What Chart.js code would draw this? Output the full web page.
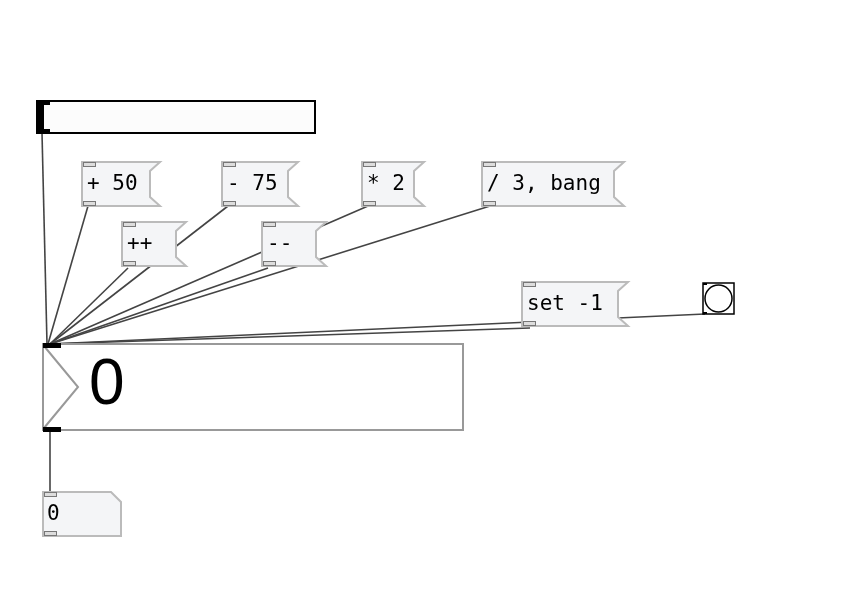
<!DOCTYPE html>
<html><head><meta charset="utf-8">
<script src="https://cdn.jsdelivr.net/npm/chart.js@4/dist/chart.umd.min.js"></script>
<style>body{margin:0;background:#fff}canvas{display:block}</style>
</head><body>
<canvas id="patchCanvas" width="861" height="596"></canvas>
<script>
// message boxes: label, left, top, width (body), height
const msgLabels = ["+ 50", "- 75", "* 2", "/ 3, bang", "++", "--", "set -1"];
const msgX = [82, 222, 362, 482, 122, 262, 522];
const msgY = [162, 162, 162, 162, 222, 222, 282];
const msgW = [68, 66, 52, 132, 54, 54, 96];
const msgH = 44;

// patch cords: from point -> to point
const cordFromX = [42, 88, 128, 228, 368, 490, 268, 530, 705, 50];
const cordFromY = [133, 206, 268, 206, 206, 206, 268, 328, 314, 430];
const cordToX = [47, 48, 50, 50, 50, 50, 50, 50, 50, 50];
const cordToY = [344, 344, 344, 344, 344, 344, 344, 344, 344, 492];

const numberValue = "0";
const atomValue = "0";

const datasets = cordFromX.map((x, i) => ({
  data: [{x: x, y: cordFromY[i]}, {x: cordToX[i], y: cordToY[i]}],
  showLine: true, borderColor: "#444", borderWidth: 1.6, pointRadius: 0
}));

const patchPlugin = {
  id: "patch",
  afterDatasetsDraw(chart) {
    const ctx = chart.ctx, sx = chart.scales.x, sy = chart.scales.y;
    const X = v => sx.getPixelForValue(v), Y = v => sy.getPixelForValue(v);
    ctx.save();
    // slider
    ctx.fillStyle = "#fcfcfc"; ctx.strokeStyle = "#000"; ctx.lineWidth = 2;
    ctx.fillRect(X(37), Y(101), X(315) - X(37), Y(133) - Y(101));
    ctx.strokeRect(X(37), Y(101), X(315) - X(37), Y(133) - Y(101));
    ctx.fillStyle = "#000";
    ctx.fillRect(X(38), Y(102), 6, 30);
    ctx.fillRect(X(38), Y(102), 12, 3); ctx.fillRect(X(38), Y(129), 12, 3);
    // message boxes
    const inlet = (x, y) => {
      ctx.fillStyle = "#ddd"; ctx.strokeStyle = "#777"; ctx.lineWidth = 1;
      ctx.fillRect(x, y, 13, 5); ctx.strokeRect(x + 0.5, y + 0.5, 12, 4);
    };
    msgLabels.forEach((lab, i) => {
      const l = X(msgX[i]), t = Y(msgY[i]), r = X(msgX[i] + msgW[i]), b = Y(msgY[i] + msgH);
      ctx.beginPath();
      ctx.moveTo(l, t); ctx.lineTo(r + 10, t); ctx.lineTo(r, t + 9);
      ctx.lineTo(r, b - 9); ctx.lineTo(r + 10, b); ctx.lineTo(l, b); ctx.closePath();
      ctx.fillStyle = "#f4f5f7"; ctx.fill();
      ctx.strokeStyle = "#bbb"; ctx.lineWidth = 2; ctx.stroke();
      ctx.fillStyle = "#000"; ctx.font = "21px 'DejaVu Sans Mono'";
      ctx.textBaseline = "middle"; ctx.fillText(lab, l + 5, (t + b) / 2 + 1);
      inlet(l + 1, t); inlet(l + 1, b - 5);
    });
    // bang
    ctx.fillStyle = "#fff"; ctx.strokeStyle = "#000"; ctx.lineWidth = 1.5;
    ctx.fillRect(X(703), Y(283), 31, 31); ctx.strokeRect(X(703), Y(283), 31, 31);
    ctx.beginPath(); ctx.arc(X(718.5), Y(298.5), 13.5, 0, Math.PI * 2); ctx.stroke();
    ctx.fillStyle = "#000"; ctx.fillRect(X(703), Y(283), 4, 2); ctx.fillRect(X(703), Y(312), 4, 2);
    // big number box
    ctx.fillStyle = "#fff"; ctx.strokeStyle = "#999"; ctx.lineWidth = 2;
    ctx.fillRect(X(43), Y(344), X(463) - X(43), Y(430) - Y(344));
    ctx.strokeRect(X(43), Y(344), X(463) - X(43), Y(430) - Y(344));
    ctx.beginPath(); ctx.moveTo(X(44), Y(346)); ctx.lineTo(X(78), Y(387)); ctx.lineTo(X(44), Y(428)); ctx.stroke();
    ctx.fillStyle = "#000";
    ctx.fillRect(X(43), Y(343), 18, 5); ctx.fillRect(X(43), Y(427), 18, 5);
    ctx.font = "64px 'Liberation Sans'"; ctx.textBaseline = "middle";
    ctx.fillText(numberValue, X(89), Y(386));
    // atom box
    ctx.beginPath();
    ctx.moveTo(X(43), Y(492)); ctx.lineTo(X(111), Y(492)); ctx.lineTo(X(121), Y(502));
    ctx.lineTo(X(121), Y(536)); ctx.lineTo(X(43), Y(536)); ctx.closePath();
    ctx.fillStyle = "#f4f5f7"; ctx.fill(); ctx.strokeStyle = "#bbb"; ctx.lineWidth = 2; ctx.stroke();
    ctx.fillStyle = "#000"; ctx.font = "21px 'DejaVu Sans Mono'";
    ctx.fillText(atomValue, X(47), Y(515));
    inlet(X(44), Y(492)); inlet(X(44), Y(531));
    ctx.restore();
  }
};

new Chart(document.getElementById("patchCanvas"), {
  type: "scatter",
  data: {datasets: datasets},
  options: {
    responsive: false, animation: false,
    layout: {padding: 0},
    plugins: {legend: {display: false}, tooltip: {enabled: false}},
    scales: {
      x: {type: "linear", min: 0, max: 861, display: false},
      y: {type: "linear", min: 0, max: 596, reverse: true, display: false}
    }
  },
  plugins: [patchPlugin]
});
</script>
</body></html>
